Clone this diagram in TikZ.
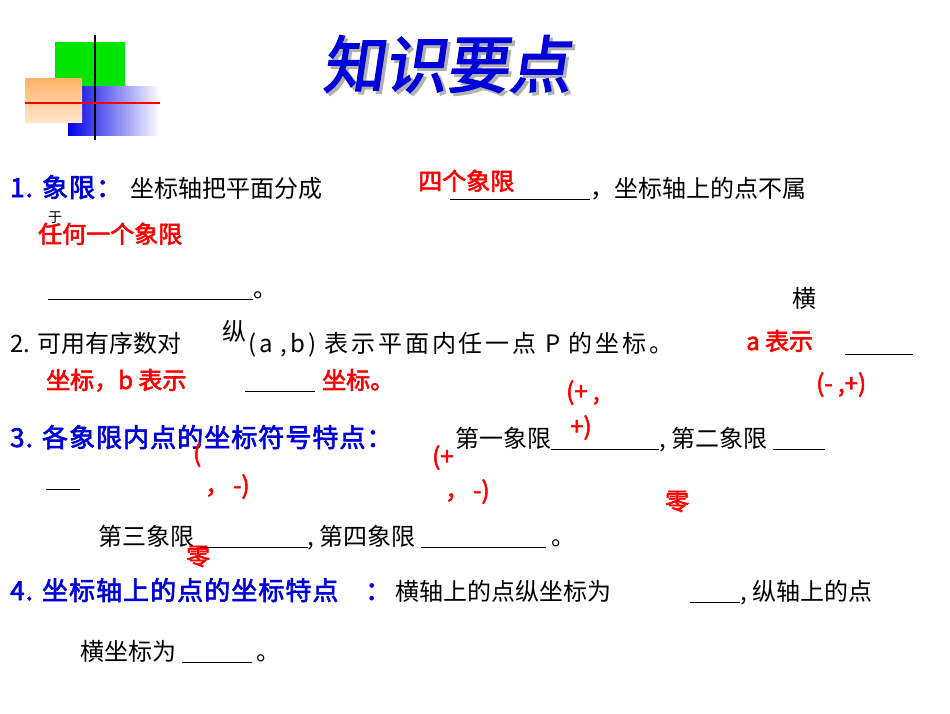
\documentclass[tikz,border=0pt]{standalone}
\usepackage{fontspec}
\setmainfont{Noto Sans CJK SC}[AutoFakeBold=2.5]
\newcommand{\ul}[1]{\rule[-3pt]{#1pt}{1.2pt}}
\begin{document}
\begin{tikzpicture}[x=1pt,y=-1pt,
  t/.style={anchor=base west,inner sep=0pt,font=\fontsize{24}{24}\selectfont},
  bt/.style={t,text=blue!85!black,font=\fontsize{26}{26}\selectfont\bfseries\addfontfeature{LetterSpace=4}},
  rt/.style={t,text=red,font=\fontsize{24}{24}\selectfont\bfseries}]
\useasboundingbox (0,0) rectangle (950,713);
% logo
\fill[green!90!black] (55,42) rectangle (125,110);
\shade[left color=blue!90!black,right color=white] (68,86) rectangle (160,135);
\shade[top color=orange!60,bottom color=orange!20] (25,78) rectangle (82,122);
\draw[line width=2.5pt] (95,35) -- (95,140);
\draw[red,line width=2pt] (25,103) -- (160,103);
% title
\node[anchor=center,text=gray!60,xslant=0.15,font=\fontsize{62}{62}\selectfont\bfseries] (sh) at (453,67) {知识要点};
\node[anchor=center,text=blue!85!black,xslant=0.15,font=\fontsize{62}{62}\selectfont\bfseries] (title) at (450,64) {知识要点};
% line 1
\node[bt] (n1) at (10,197) {1. 象限：};
\node[t] (l1a) at (130,197) {坐标轴把平面分成};
\node[rt] (r1) at (418,190) {四个象限};
\node[t] (l1b) at (450,197) {\ul{140}，坐标轴上的点不属};
\node[t,font=\fontsize{14}{14}\selectfont] (yu) at (48,222) {于};
\node[rt] (r2) at (38,243) {任何一个象限};
\node[t] (l1c) at (48,297) {\ul{205}。};
\node[t] (heng) at (792,307) {横};
% line 2
\node[t] (l2) at (10,352) {2. 可用有序数对};
\node[t] (zong) at (222,340) {纵};
\node[t,font=\fontsize{24}{24}\selectfont\addfontfeature{LetterSpace=12}] (l2a) at (248,352) {(a ,b) 表示平面内任一点 P 的坐标。};
\node[rt] (r3) at (746,350) {a 表示};
\node[t] (l2b) at (845,352) {\ul{68}};
\node[rt] (r4) at (46,389) {坐标，b 表示};
\node[t] (l2c) at (245,389) {\ul{70}};
\node[rt] (r5) at (322,389) {坐标。};
\node[rt] (p1) at (566,400) {(+ ,};
\node[rt] (p1b) at (570,435) {+)};
\node[rt] (p2) at (816,392) {(- ,+)};
% line 3
\node[bt] (n3) at (10,447) {3. 各象限内点的坐标符号特点：};
\node[t] (l3a) at (455,447) {第一象限\ul{108}, 第二象限 \ul{52}};
\node[t] (l3b) at (46,487) {\ul{34}};
\node[rt] (p3) at (193,462) {(};
\node[rt] (p3b) at (205,494) {，\,-)};
\node[rt] (p4) at (432,465) {(+};
\node[rt] (p4b) at (445,499) {，\,-)};
\node[rt] (z1) at (665,510) {零};
\node[t] (l3c) at (98,545) {第三象限 \ul{108}, 第四象限 \ul{125} 。};
\node[rt] (z2) at (186,565) {零};
% line 4
\node[bt] (n4) at (10,600) {4. 坐标轴上的点的坐标特点};
\node[bt] (c4) at (365,600) {：};
\node[t] (l4a) at (395,600) {横轴上的点纵坐标为};
\node[t] (l4b) at (690,600) {\ul{50}, 纵轴上的点};
\node[t] (l4c) at (80,660) {横坐标为 \ul{70} 。};
\end{tikzpicture}
\end{document}
